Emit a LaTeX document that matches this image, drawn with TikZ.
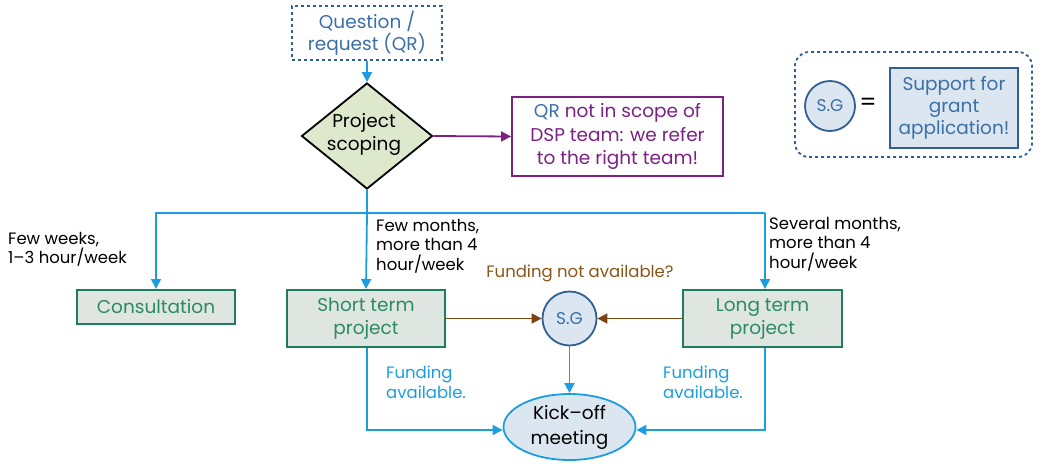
\documentclass[tikz,border=0pt]{standalone}
\usepackage{fontspec}
\setmainfont{Poppins}
\usetikzlibrary{arrows.meta,shapes.geometric,positioning}
\definecolor{lineblue}{HTML}{1A9EE0}
\definecolor{darkblue}{HTML}{2F5F94}
\definecolor{textblue}{HTML}{3A6FA8}
\definecolor{boxgreen}{HTML}{1E7D5E}
\definecolor{textgreen}{HTML}{2B8A64}
\definecolor{fillgreen}{HTML}{DFE6E2}
\definecolor{purp}{HTML}{7B2183}
\definecolor{brown}{HTML}{7A4410}
\definecolor{textbrown}{HTML}{8A5518}
\definecolor{fillblue}{HTML}{DCE6F0}
\definecolor{diafill}{HTML}{DDE8CC}
\tikzset{
  every node/.style={font=\fontsize{18.5}{23}\selectfont, align=center, inner sep=0pt},
  tip/.style={-{Triangle[length=10pt,width=10pt]}},
  blueline/.style={draw=lineblue, line width=1.8pt, tip},
  brownline/.style={draw=brown, line width=1.8pt, tip},
  purpline/.style={draw=purp, line width=1.8pt, tip},
  greenbox/.style={draw=boxgreen, fill=fillgreen, line width=2pt, text=textgreen, minimum height=#1},
  note/.style={align=left, anchor=north west, font=\fontsize{16.5}{19.5}\selectfont},
  sgcircle/.style={circle, draw=darkblue, fill=fillblue, line width=1.8pt, text=textblue, font=\fontsize{17}{18}\selectfont},
}
\begin{document}
\begin{tikzpicture}[x=1pt,y=-1pt]
\useasboundingbox (0,0) rectangle (1042,469);
% Question
\node[draw=darkblue, dashed, line width=1.8pt, text=textblue, minimum width=150pt, minimum height=54pt, font=\fontsize{18.5}{22}\selectfont] (q) at (367,33) {Question /\\request (QR)};
% diamond
\node[diamond, draw=black, fill=diafill, line width=1.8pt, minimum width=131pt, minimum height=106pt, aspect=1.24] (ps) at (367,136) {};
\node at (364,134) {Project\\scoping};
% QR out of scope
\node[draw=purp, line width=1.8pt, text=purp, minimum width=211pt, minimum height=79pt, font=\fontsize{18.5}{23.5}\selectfont] (qr) at (617.5,136.5) {\textcolor{textblue}{QR} not in scope of\\DSP team: we refer\\to the right team!};
% process boxes
\node[greenbox=34pt, minimum width=158pt] (con) at (156,307) {Consultation};
\node[greenbox=57pt, minimum width=158pt] (st) at (366,318.5) {Short term\\project};
\node[greenbox=57pt, minimum width=159pt] (lt) at (762.5,318.5) {Long term\\project};
\node[sgcircle, minimum size=54pt] (sg) at (569.5,318.5) {S.G};
\node[ellipse, draw=lineblue, fill=fillblue, line width=1.8pt, minimum width=132pt, minimum height=66pt, font=\fontsize{18.5}{25}\selectfont] (ko) at (569.5,427) {Kick–off\\meeting};
% junction coords
\coordinate (j) at (367,213);
\coordinate (jl) at (156,213);
\coordinate (jr) at (765,213);
\coordinate (bl) at (367,430);
\coordinate (br) at (765,430);
% connectors
\draw[blueline] (q.south) -- (ps.north);
\draw[purpline] (ps.east) -- (qr.west);
\draw[draw=lineblue, line width=1.8pt] (ps.south) -- (j);
\draw[blueline] (jr) -- (jl) -- (con.north);
\draw[blueline] (j) -- (st.north);
\draw[blueline] (jr) -- (jr |- lt.north);
\draw[brownline] (st.east) -- (sg.west);
\draw[brownline] (lt.west) -- (sg.east);
\draw[blueline] (sg.south) -- (ko.north);
\draw[blueline] (st.south -| bl) -- (bl) -- (ko.west |- bl);
\draw[blueline] (lt.south -| br) -- (br) -- (ko.east |- br);
% labels
\node[note] (l1) at (8,232) {Few weeks,\\1–3 hour/week};
\node[note] (l2) at (376,219) {Few months,\\more than 4\\hour/week};
\node[note] (l3) at (769,217) {Several months,\\more than 4\\hour/week};
\node[text=textbrown, font=\fontsize{16.5}{19}\selectfont] (fna) at (580,273) {Funding not available?};
\node[note, text=lineblue] (fa1) at (386,366) {Funding\\available.};
\node[note, text=lineblue] (fa2) at (663,366) {Funding\\available.};
% legend
\node[draw=darkblue, dashed, line width=1.8pt, rounded corners=14pt, minimum width=237pt, minimum height=105pt] (leg) at (913.5,104.5) {};
\node[sgcircle, minimum size=50pt] (sg2) at (830,106) {S.G};
\node[font=\fontsize{24}{24}\selectfont] (eq) at (868,104) {=};
\node[draw=darkblue, fill=fillblue, line width=1.8pt, text=textblue, minimum width=128pt, minimum height=80pt, font=\fontsize{18.5}{22}\selectfont] (sup) at (954,108) {Support for\\grant\\application!};
\end{tikzpicture}
\end{document}
